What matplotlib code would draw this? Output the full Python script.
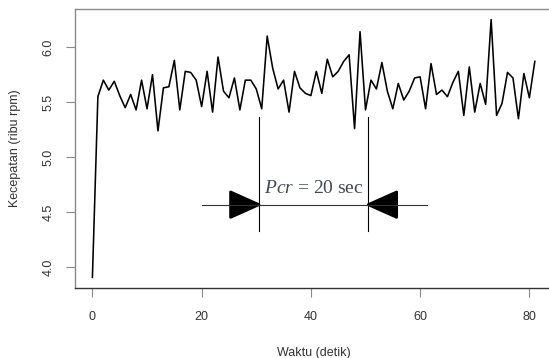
import numpy as np
import matplotlib
matplotlib.use("Agg")
import matplotlib.pyplot as plt

# kecepatan putaran (ribu rpm) tiap detik
waktu = np.arange(0, 82)
kecepatan = [
    3.91, 5.55, 5.70, 5.61, 5.69, 5.56, 5.45, 5.57, 5.43, 5.70,
    5.44, 5.75, 5.24, 5.63, 5.64, 5.88, 5.43, 5.78, 5.77, 5.70,
    5.46, 5.78, 5.41, 5.91, 5.60, 5.54, 5.72, 5.43, 5.70, 5.70,
    5.62, 5.44, 6.10, 5.81, 5.62, 5.70, 5.41, 5.78, 5.63, 5.58,
    5.56, 5.78, 5.58, 5.89, 5.73, 5.78, 5.87, 5.93, 5.26, 6.14,
    5.43, 5.70, 5.62, 5.86, 5.60, 5.44, 5.67, 5.52, 5.60, 5.72,
    5.73, 5.44, 5.85, 5.57, 5.61, 5.55, 5.68, 5.78, 5.38, 5.82,
    5.41, 5.67, 5.48, 6.25, 5.38, 5.49, 5.77, 5.72, 5.35, 5.76,
    5.54, 5.87,
]

# penanda periode kritis
pcr_mulai = 30.5
pcr_selesai = 50.5
garis_kiri = 20
garis_kanan = 61.3
panah_y = 4.57
garis_atas = 5.37
garis_bawah = 4.33
label_pcr = "Pcr"
label_nilai = " = 20 sec"

plt.rcParams["font.family"] = ["Liberation Sans", "DejaVu Sans"]
plt.rcParams["mathtext.fontset"] = "custom"
plt.rcParams["mathtext.rm"] = "Liberation Serif"
plt.rcParams["mathtext.it"] = "Liberation Serif:italic"

fig = plt.figure(figsize=(5.49, 3.58), dpi=100)
ax = fig.add_axes([0.1361, 0.1964, 0.8703, 0.7778])

ax.plot(waktu, kecepatan, color="black", lw=1.15)

# batas sumbu ala R (4% di tiap sisi)
dx = (waktu.max() - waktu.min()) * 0.04
dy = (max(kecepatan) - min(kecepatan)) * 0.04
ax.set_xlim(waktu.min() - dx, waktu.max() + dx)
ax.set_ylim(min(kecepatan) - dy, max(kecepatan) + dy)

# garis vertikal dan panah
ax.plot([pcr_mulai, pcr_mulai], [garis_bawah, garis_atas], color="black", lw=0.8)
ax.plot([pcr_selesai, pcr_selesai], [garis_bawah, garis_atas], color="black", lw=0.8)
ax.plot([garis_kiri, garis_kanan], [panah_y, panah_y], color="#333333", lw=0.8)
pj, pt = 5.2, 0.115
ax.fill([pcr_mulai, pcr_mulai - pj, pcr_mulai - pj], [panah_y, panah_y + pt, panah_y - pt],
        color="black", joinstyle="round", lw=2)
ax.fill([pcr_selesai, pcr_selesai + pj, pcr_selesai + pj], [panah_y, panah_y + pt, panah_y - pt],
        color="black", joinstyle="round", lw=2)
ax.text(pcr_mulai + 0.9, 4.673, r"$\mathit{" + label_pcr + "}$" + label_nilai,
        fontsize=14, color="#404a55", ha="left", va="baseline", family="Liberation Serif")

ax.set_xticks([0, 20, 40, 60, 80])
ax.set_yticks([4.0, 4.5, 5.0, 5.5, 6.0])
ax.set_yticklabels(["4.0", "4.5", "5.0", "5.5", "6.0"], rotation=90, va="center")
for s in ax.spines.values():
    s.set_color("#8a8a8a")
    s.set_linewidth(1.0)
ax.spines["bottom"].set_color("#333333")
ax.tick_params(axis="both", length=6.5, width=0.8, color="#8a8a8a", labelsize=9, labelcolor="#333333")
ax.tick_params(axis="x", pad=10)
ax.tick_params(axis="y", pad=8)

ax.set_xlabel("Waktu (detik)", fontsize=9, color="#333333", va="center")
ax.set_ylabel("Kecepatan (ribu rpm)", fontsize=9, color="#333333", va="center")
ax.xaxis.set_label_coords(0.5, -0.236)
ax.yaxis.set_label_coords(-0.125, 0.5)

plt.savefig("out.png", dpi=100)
